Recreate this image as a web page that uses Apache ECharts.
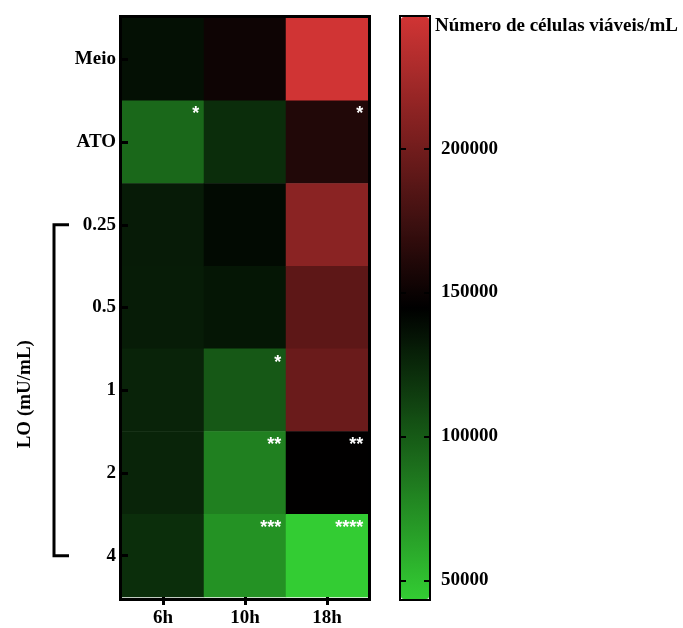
<!DOCTYPE html>
<html>
<head>
<meta charset="utf-8">
<script src="https://cdn.jsdelivr.net/npm/echarts@6/dist/echarts.min.js"></script>
<style>
  html, body { margin: 0; padding: 0; background: #fff; }
  #main { width: 683px; height: 628px; }
</style>
</head>
<body>
<div id="main"></div>
<script>
// Viable cell counts (cells/mL) per treatment, one array per time point
const timePoints = ['6h', '10h', '18h'];
const treatments = ['Meio', 'ATO', '0.25', '0.5', '1', '2', '4'];
const cells6h  = [136800,  93200, 131300, 131000, 127400, 126900, 121900];
const cells10h = [151500, 122400, 139700, 133800, 101100,  81300,  72400];
const cells18h = [245700, 160700, 211700, 189900, 196200, 145000,  43600];

// Significance marks per cell
const stars6h  = ['', '*', '', '', '', '', ''];
const stars10h = ['', '', '', '', '*', '**', '***'];
const stars18h = ['', '*', '', '', '', '**', '****'];

// Colour bar tick values
const scaleTicks = [50000, 100000, 150000, 200000];

const columns = [cells6h, cells10h, cells18h];
const starColumns = [stars6h, stars10h, stars18h];
const allValues = columns.flat();
const scaleMin = Math.min(...allValues);
const scaleMax = Math.max(...allValues);

const heatData = [];
columns.forEach((col, xi) => col.forEach((v, yi) => heatData.push([xi, yi, v])));

const SERIF = '"Liberation Serif", "Times New Roman", serif';
const HM = { left: 122, top: 18, width: 246, height: 580 };   // heatmap plot box
const CB = { left: 401, top: 17, width: 28, height: 582 };    // colour bar box
const CB_TICK = 5;

const boldText = { color: '#000', fontFamily: SERIF, fontWeight: 'bold', fontSize: 19 };
const tickStyle = { color: '#000', width: 2 };

const chart = echarts.init(document.getElementById('main'));

function frameGraphics() {
  return [
    {
      id: 'hmFrame', type: 'rect', z: 100, silent: true,
      shape: { x: HM.left - 1.5, y: HM.top - 1.5, width: HM.width + 3, height: HM.height + 3 },
      style: { fill: null, stroke: '#000', lineWidth: 3 }
    },
    {
      id: 'cbFrame', type: 'rect', z: 100, silent: true,
      shape: { x: CB.left - 1, y: CB.top - 1, width: CB.width + 2, height: CB.height + 2 },
      style: { fill: null, stroke: '#000', lineWidth: 2 }
    },
    {
      id: 'cbTitle', type: 'text', z: 100, silent: true,
      x: 435, y: 26,
      style: { text: 'Número de células viáveis/mL', fill: '#000',
        font: 'bold 19px ' + SERIF, verticalAlign: 'middle', align: 'left' }
    }
  ];
}

const option = {
  animation: false,
  backgroundColor: '#fff',
  grid: [
    { left: HM.left, top: HM.top, width: HM.width, height: HM.height },
    { left: CB.left, top: CB.top, width: CB.width, height: CB.height },
    // narrow strip along the bar's right edge, carrying the right-hand inner ticks
    { left: CB.left + CB.width - CB_TICK, top: CB.top, width: CB_TICK, height: CB.height }
  ],
  xAxis: [
    {
      type: 'category', gridIndex: 0, data: timePoints, position: 'bottom', z: 5,
      axisLine: { show: false },
      axisTick: { show: true, alignWithLabel: true, length: 8, lineStyle: { color: '#000', width: 3 } },
      axisLabel: Object.assign({ margin: 12 }, boldText)
    },
    { type: 'value', gridIndex: 1, show: false, min: 0, max: 1 },
    { type: 'value', gridIndex: 2, show: false, min: 0, max: 1 }
  ],
  yAxis: [
    {
      type: 'category', gridIndex: 0, data: treatments, inverse: true, z: 5,
      axisLine: { show: false },
      axisTick: { show: true, alignWithLabel: true, inside: true, length: 6, lineStyle: { color: '#000', width: 3 } },
      axisLabel: Object.assign({ margin: 6 }, boldText)
    },
    {
      // left inner ticks of the colour bar
      type: 'value', gridIndex: 1, position: 'left', min: scaleMin, max: scaleMax, z: 5,
      axisLine: { show: false }, splitLine: { show: false },
      axisTick: { show: true, inside: true, length: CB_TICK, customValues: scaleTicks, lineStyle: tickStyle },
      axisLabel: { show: false }
    },
    {
      // colour bar labels
      type: 'value', gridIndex: 1, position: 'right', min: scaleMin, max: scaleMax, z: 5,
      axisLine: { show: false }, splitLine: { show: false },
      axisTick: { show: false },
      axisLabel: Object.assign({ margin: 12, customValues: scaleTicks, formatter: v => String(v) }, boldText)
    },
    {
      // right inner ticks of the colour bar
      type: 'value', gridIndex: 2, position: 'left', min: scaleMin, max: scaleMax, z: 5,
      axisLine: { show: false }, splitLine: { show: false },
      axisTick: { show: true, inside: true, length: CB_TICK, customValues: scaleTicks, lineStyle: tickStyle },
      axisLabel: { show: false }
    }
  ],
  visualMap: {
    type: 'continuous', seriesIndex: 0, min: scaleMin, max: scaleMax,
    calculable: false, orient: 'vertical',
    left: CB.left, top: CB.top, itemWidth: CB.width, itemHeight: CB.height,
    padding: 0, text: null,
    inRange: { color: ['#33cc33', '#000000', '#d03434'] }
  },
  series: [{
    type: 'heatmap', xAxisIndex: 0, yAxisIndex: 0, data: heatData,
    emphasis: { disabled: true },
    label: {
      show: true, position: 'insideTopRight', distance: 5,
      color: '#fff', fontFamily: '"Liberation Sans", Arial, sans-serif', fontWeight: 'bold', fontSize: 18,
      formatter: p => starColumns[p.data[0]][p.data[1]]
    }
  }],
  graphic: frameGraphics()
};

chart.setOption(option);

// Bracket grouping the LO concentrations, plus its rotated axis title
const yTop = chart.convertToPixel({ yAxisIndex: 0 }, '0.25');
const yBot = chart.convertToPixel({ yAxisIndex: 0 }, '4');
const bx = 54, arm = 15;
chart.setOption({
  graphic: frameGraphics().concat([
    {
      id: 'bracket', type: 'polyline', z: 100, silent: true,
      shape: { points: [[bx + arm, yTop], [bx, yTop], [bx, yBot], [bx + arm, yBot]] },
      style: { fill: null, stroke: '#000', lineWidth: 3 }
    },
    {
      id: 'loTitle', type: 'text', z: 100, silent: true,
      x: 25, y: (yTop + yBot) / 2 + 4, rotation: Math.PI / 2,
      style: { text: 'LO (mU/mL)', fill: '#000', font: 'bold 19px ' + SERIF, align: 'center', verticalAlign: 'middle' }
    }
  ])
});
</script>
</body>
</html>
